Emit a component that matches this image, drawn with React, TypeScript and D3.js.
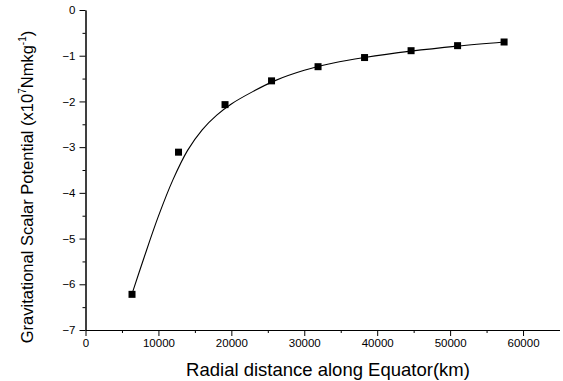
import {useEffect, useRef} from 'react'
import * as d3 from 'd3'

const WIDTH = 563
const HEIGHT = 381
const MARGIN = {top: 10, right: 3.5, bottom: 51, left: 85.5}

// measured points (km, x10^7 N m/kg)
const distances = [6378, 12756, 19134, 25512, 31890, 38268, 44646, 51024, 57402]
const potentials = [-6.22, -3.11, -2.07, -1.55, -1.24, -1.04, -0.89, -0.78, -0.7]

// fitted curve
const fitX = [6378, 8000, 10000, 12000, 14000, 16000, 18000, 20000, 23000, 26000, 30000, 34000, 38268, 44646, 51024, 57402]
const fitY = [-6.21, -5.43, -4.51, -3.71, -3.07, -2.62, -2.3, -2.055, -1.78, -1.545, -1.32, -1.16, -1.04, -0.9, -0.79, -0.7]

const xMajor = [0, 10000, 20000, 30000, 40000, 50000, 60000]
const xMinor = [5000, 15000, 25000, 35000, 45000, 55000]
const yMajor = [0, -1, -2, -3, -4, -5, -6, -7]
const yMinor = [-0.5, -1.5, -2.5, -3.5, -4.5, -5.5, -6.5]

const FONT = '"Liberation Sans", Arial, sans-serif'

export default function App() {
  const xAxisRef = useRef<SVGGElement>(null)
  const yAxisRef = useRef<SVGGElement>(null)

  const boundsWidth = WIDTH - MARGIN.left - MARGIN.right
  const boundsHeight = 330 - MARGIN.top

  const xScale = d3.scaleLinear().domain([0, 65000]).range([0, boundsWidth])
  const yScale = d3.scaleLinear().domain([-7, 0]).range([boundsHeight, 0])

  useEffect(() => {
    const gx = d3.select(xAxisRef.current)
    gx.selectAll('*').remove()
    gx.append('g').call(
      d3.axisBottom(xScale).tickValues(xMinor).tickSize(3).tickSizeOuter(0).tickFormat(() => '')
    )
    gx.append('g').call(
      d3.axisBottom(xScale).tickValues(xMajor).tickSize(6).tickSizeOuter(0).tickPadding(3).tickFormat(d3.format('d'))
    )
    const gy = d3.select(yAxisRef.current)
    gy.selectAll('*').remove()
    gy.append('g').call(
      d3.axisLeft(yScale).tickValues(yMinor).tickSize(3).tickSizeOuter(0).tickFormat(() => '')
    )
    gy.append('g').call(
      d3.axisLeft(yScale).tickValues(yMajor).tickSize(6).tickSizeOuter(0).tickPadding(4).tickFormat(d3.format('d'))
    )
    for (const g of [gx, gy]) {
      g.selectAll('text').attr('font-family', FONT).attr('font-size', 11.5).attr('fill', '#000')
      g.selectAll('line').attr('stroke', '#000')
      g.selectAll('path.domain').attr('stroke', '#000')
    }
  }, [])

  const line = d3
    .line<number>()
    .x((_, i) => xScale(fitX[i]))
    .y(d => yScale(d))
    .curve(d3.curveCatmullRom.alpha(0.5))

  return (
    <svg width={WIDTH} height={HEIGHT} style={{position: 'absolute', left: 0, top: 0, background: '#fff'}}>
      <g transform={`translate(${MARGIN.left},${MARGIN.top})`}>
        <path d={line(fitY) ?? ''} fill="none" stroke="#000" strokeWidth={1.1} />
        {potentials.map((v, i) => (
          <rect
            key={i}
            x={xScale(distances[i]) - 3.5}
            y={yScale(v) - 3.5}
            width={7}
            height={7}
            fill="#000"
          />
        ))}
        <g ref={xAxisRef} transform={`translate(0,${boundsHeight})`} />
        <g ref={yAxisRef} />
      </g>
      <text x={328} y={376} textAnchor="middle" fontFamily={FONT} fontSize={18.5} fill="#000">
        Radial distance along Equator(km)
      </text>
      <text
        transform="translate(33,187) rotate(-90)"
        textAnchor="middle"
        fontFamily={FONT}
        fontSize={16.5}
        fill="#000">
        Gravitational Scalar Potential (x10
        <tspan fontSize={10} dy={-7}>7</tspan>
        <tspan dy={7}>Nmkg</tspan>
        <tspan fontSize={10} dy={-7}>-1</tspan>
        <tspan dy={7}>)</tspan>
      </text>
    </svg>
  )
}
